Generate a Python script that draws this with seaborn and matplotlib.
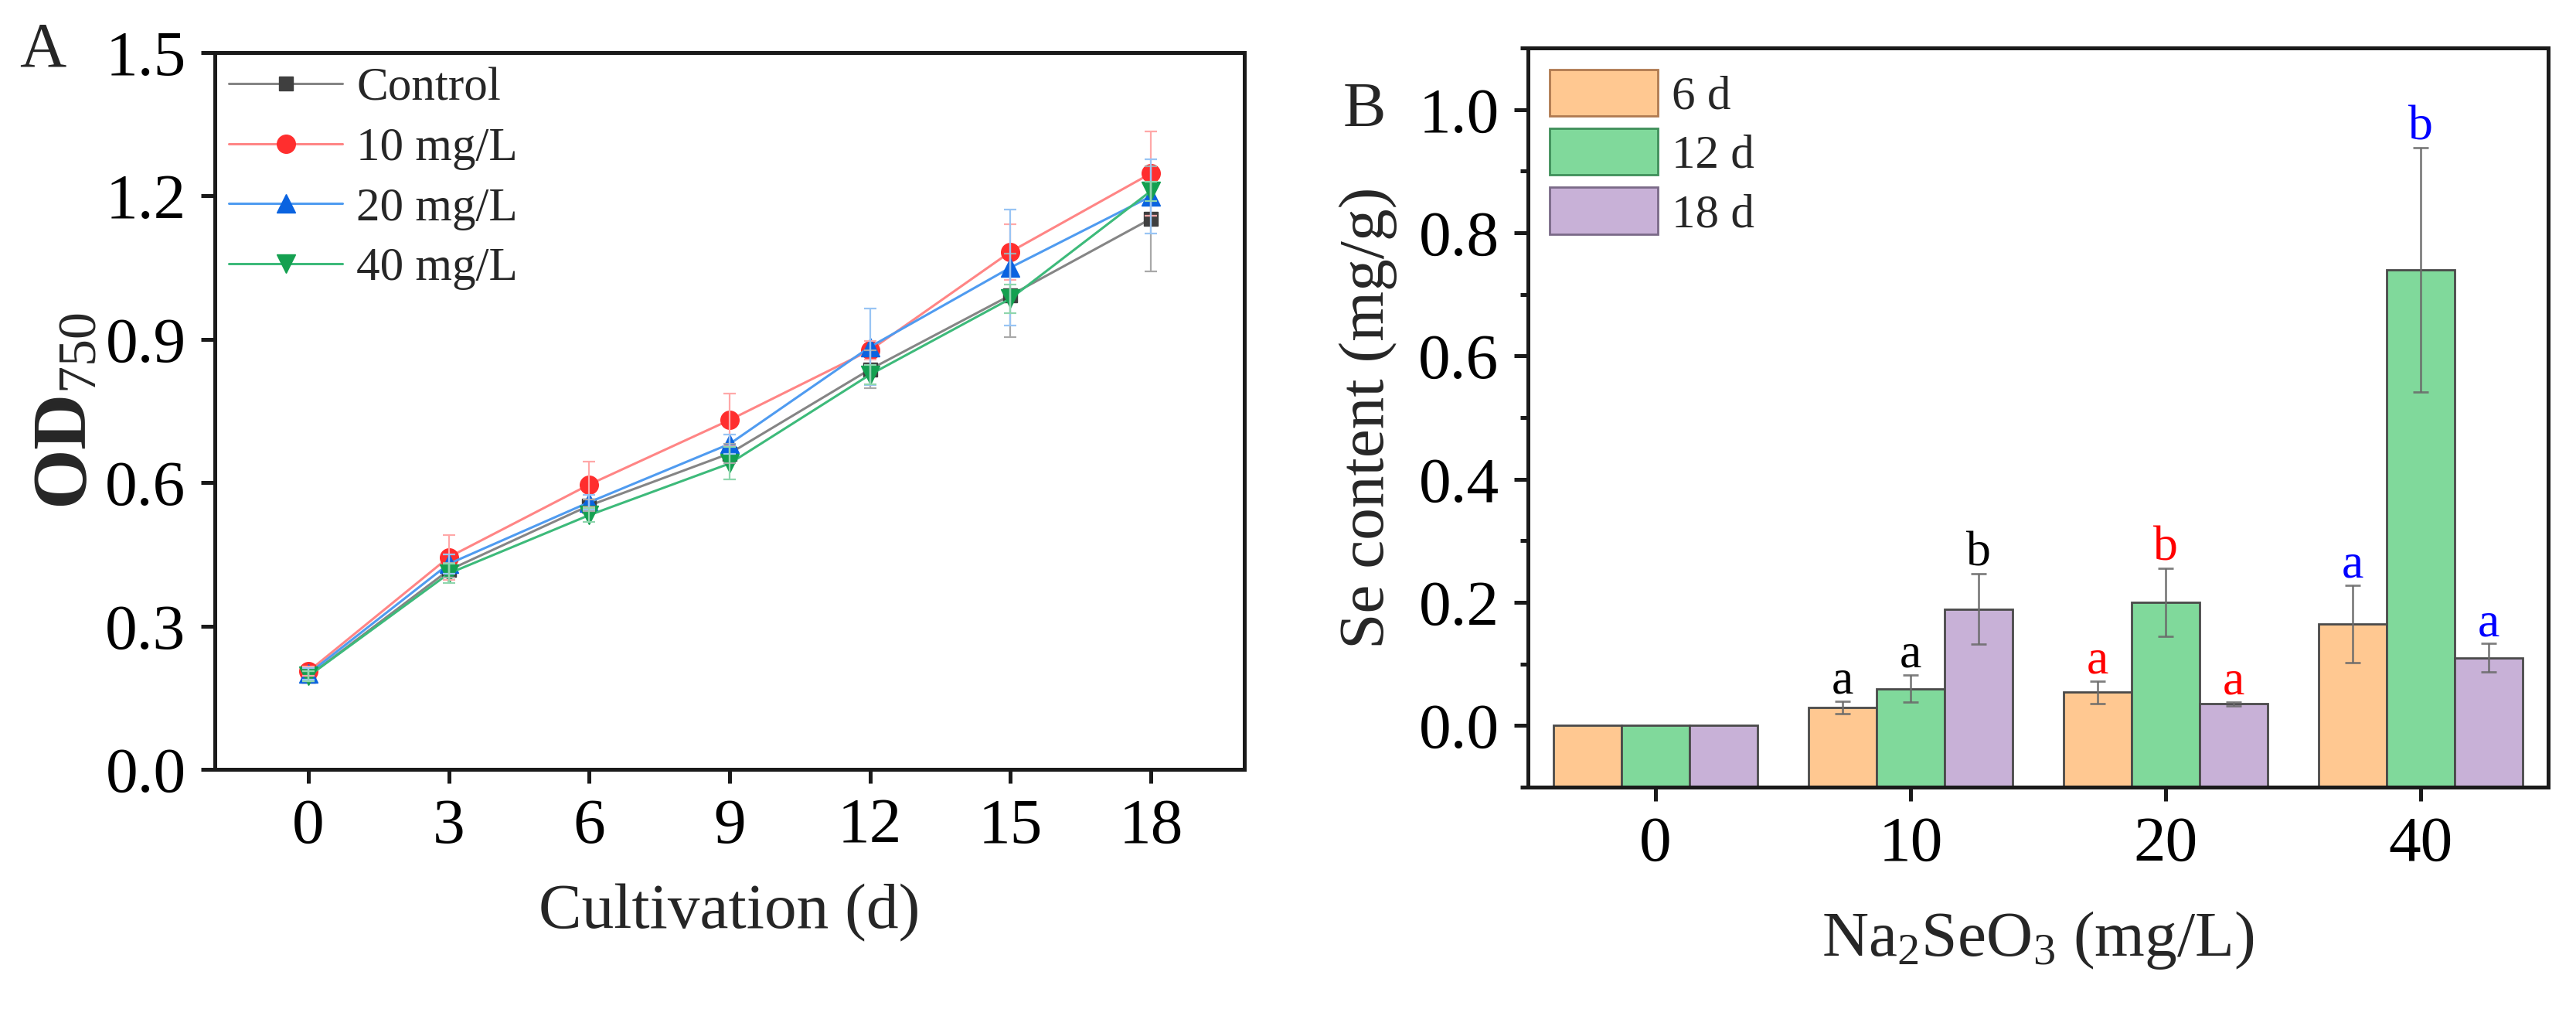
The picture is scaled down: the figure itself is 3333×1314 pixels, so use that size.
import matplotlib
matplotlib.use("Agg")
import matplotlib.pyplot as plt
from matplotlib.ticker import MultipleLocator, FormatStrFormatter
import numpy as np
import pandas as pd
import seaborn as sns

# ---- panel A: growth curves (OD750) ----
days = [0, 3, 6, 9, 12, 15, 18]
series_names = ["Control", "10 mg/L", "20 mg/L", "40 mg/L"]
od_control = [0.195, 0.417, 0.552, 0.661, 0.837, 0.992, 1.152]
od_10 = [0.205, 0.444, 0.596, 0.731, 0.877, 1.083, 1.247]
od_20 = [0.200, 0.430, 0.559, 0.681, 0.884, 1.050, 1.199]
od_40 = [0.195, 0.410, 0.532, 0.640, 0.826, 0.985, 1.210]
sd_control = [0.010, 0.015, 0.012, 0.020, 0.040, 0.088, 0.110]
sd_10 = [0.010, 0.047, 0.048, 0.055, 0.020, 0.058, 0.088]
sd_20 = [0.012, 0.020, 0.015, 0.020, 0.080, 0.122, 0.077]
sd_40 = [0.010, 0.020, 0.015, 0.034, 0.020, 0.030, 0.020]

# ---- panel B: Se content ----
conc_labels = ["0", "10", "20", "40"]
day_labels = ["6 d", "12 d", "18 d"]
se_6d = [0.0, 0.029, 0.054, 0.165]
se_12d = [0.0, 0.060, 0.200, 0.740]
se_18d = [0.0, 0.189, 0.035, 0.110]
se_sd_6d = [0.0, 0.010, 0.018, 0.063]
se_sd_12d = [0.0, 0.022, 0.055, 0.198]
se_sd_18d = [0.0, 0.057, 0.003, 0.023]
letters_6d = ["", "a", "a", "a"]
letters_12d = ["", "a", "b", "b"]
letters_18d = ["", "b", "a", "a"]
letter_colors = ["black", "black", "red", "blue"]

sns.set_theme(style="ticks")
plt.rcParams["font.family"] = ["Liberation Serif", "DejaVu Serif"]
plt.rcParams["mathtext.fontset"] = "custom"
plt.rcParams["mathtext.rm"] = "Liberation Serif"
plt.rcParams["mathtext.it"] = "Liberation Serif:italic"
plt.rcParams["mathtext.default"] = "regular"

W, H, DPI = 3333, 1314, 200
fig = plt.figure(figsize=(W / DPI, H / DPI), dpi=DPI)
fig.patch.set_facecolor("white")

ax1 = fig.add_axes([278 / W, 1 - 995 / H, 1332 / W, 927 / H])
ax2 = fig.add_axes([1977 / W, 1 - 1018 / H, 1320 / W, 956 / H])

spine_w = 1.8

# panel A
line_colors = ["#858585", "#ff8585", "#4f9bf0", "#3dba7a"]
marker_colors = ["#3f3f3f", "#ff2e2e", "#0a63e0", "#14a050"]
err_colors = ["#a8a8a8", "#ffa8a8", "#98c4f4", "#8fd6ad"]
markers = ["s", "o", "^", "v"]
msizes = [6.5, 8.5, 8.5, 8.5]
all_od = [od_control, od_10, od_20, od_40]
all_sd = [sd_control, sd_10, sd_20, sd_40]

for name, od, sd, lc, mc, ec, mk, ms in zip(series_names, all_od, all_sd, line_colors,
                                             marker_colors, err_colors, markers, msizes):
    sns.lineplot(x=days, y=od, ax=ax1, color=lc, linewidth=1.1, marker=mk, markersize=ms,
                 markerfacecolor=mc, markeredgecolor=mc, markeredgewidth=0.5, label=name,
                 zorder=3)
    ax1.errorbar(days, od, yerr=sd, fmt="none", ecolor=ec, elinewidth=0.8, capsize=3,
                 capthick=0.8, zorder=4)

ax1.set_xlim(-2, 20)
ax1.set_ylim(0, 1.5)
ax1.set_xticks(days)
ax1.set_yticks([0, 0.3, 0.6, 0.9, 1.2, 1.5])
ax1.yaxis.set_major_formatter(FormatStrFormatter("%.1f"))
ax1.set_xlabel("Cultivation (d)", fontsize=30)
ax1.set_ylabel("OD$_{\\mathrm{750}}$", fontsize=36, fontweight="bold")
ax1.xaxis.set_label_coords(0.5, -0.16)
ax1.yaxis.set_label_coords(-0.11, 0.5)
leg1 = ax1.legend(loc="upper left", bbox_to_anchor=(0.0, 1.0), frameon=False, fontsize=22,
                  handlelength=2.4, handletextpad=0.3, labelspacing=0.36, borderaxespad=0.1,
                  borderpad=0.2)

# panel B
df = pd.DataFrame({
    "conc": conc_labels * 3,
    "day": [d for d in day_labels for _ in conc_labels],
    "value": se_6d + se_12d + se_18d,
})
bar_colors = ["#ffc891", "#80d99b", "#c8b1d7"]
legend_edges = ["#b07a50", "#3f8f5a", "#7a6a88"]
sns.barplot(data=df, x="conc", y="value", hue="day", hue_order=day_labels,
            order=conc_labels, palette=bar_colors, errorbar=None, width=0.8,
            edgecolor="#4a4a4a", linewidth=1.0, legend=False, saturation=1, ax=ax2)

floor = -0.1
all_se_sd = [se_sd_6d, se_sd_12d, se_sd_18d]
all_letters = [letters_6d, letters_12d, letters_18d]
for cont, sds, lets in zip(ax2.containers, all_se_sd, all_letters):
    for i, (bar, sd, lt) in enumerate(zip(cont.patches, sds, lets)):
        xc = bar.get_x() + bar.get_width() / 2
        h = bar.get_height()
        if sd > 0:
            ax2.errorbar(xc, h, yerr=sd, fmt="none", ecolor="#6a6a6a", elinewidth=1.0,
                         capsize=3.6, capthick=1.0, alpha=0.85, zorder=4)
        if lt:
            ax2.text(xc, h + sd + 0.013, lt, ha="center", va="baseline", fontsize=23,
                     color=letter_colors[i], zorder=5)
        # bars start from the bottom of the axis, as in the original
        bar.set_y(floor)
        bar.set_height(h - floor)

ax2.set_xlim(-0.5, 3.5)
ax2.set_ylim(floor, 1.1)
ax2.set_yticks([0, 0.2, 0.4, 0.6, 0.8, 1.0])
ax2.yaxis.set_minor_locator(MultipleLocator(0.1))
ax2.yaxis.set_major_formatter(FormatStrFormatter("%.1f"))
ax2.set_xlabel("Na$_{2}$SeO$_{3}$ (mg/L)", fontsize=30)
ax2.set_ylabel("Se content (mg/g)", fontsize=30)
ax2.xaxis.set_label_coords(0.5, -0.165)
ax2.yaxis.set_label_coords(-0.128, 0.5)
leg2 = ax2.legend(list(ax2.containers), day_labels, loc="upper left",
                  bbox_to_anchor=(0.0, 1.0), frameon=False, fontsize=22,
                  handlelength=2.3, handleheight=1.15, handletextpad=0.3,
                  labelspacing=0.2, borderaxespad=0.1, borderpad=0.35)
for hnd, ecol in zip(leg2.legend_handles, legend_edges):
    hnd.set_edgecolor(ecol)

for ax in (ax1, ax2):
    for sp in ax.spines.values():
        sp.set_visible(True)
        sp.set_linewidth(spine_w)
        sp.set_color("#1a1a1a")
    ax.tick_params(axis="both", which="major", direction="out", length=6.5, width=spine_w,
                   labelsize=30, pad=7, top=False, right=False, colors="#1a1a1a",
                   labelcolor="black")
    ax.set_facecolor("white")
ax2.tick_params(axis="y", which="minor", direction="out", length=3.6, width=spine_w,
                right=False, colors="#1a1a1a")

fig.text(55 / W, 1 - 66 / H, "A", ha="center", va="center", fontsize=30)
fig.text(1765 / W, 1 - 143 / H, "B", ha="center", va="center", fontsize=30)

fig.savefig("out.png", dpi=DPI, facecolor="white")
